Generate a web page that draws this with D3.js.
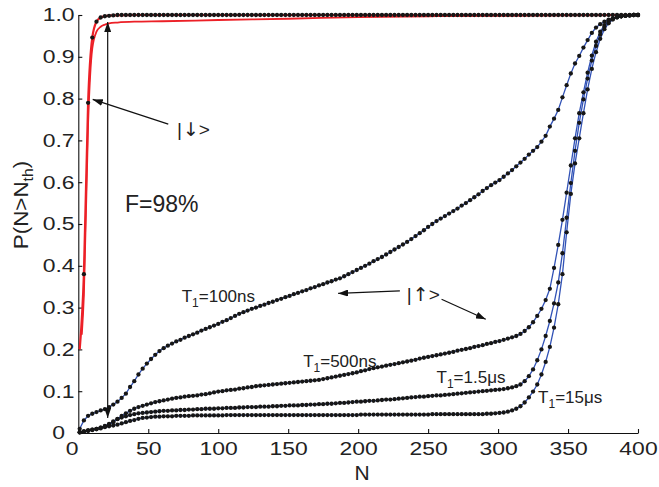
<!DOCTYPE html>
<html>
<head>
<meta charset="utf-8">
<script src="https://cdn.jsdelivr.net/npm/d3@7"></script>
<style>
  body { margin: 0; background: #fff; }
  text { font-family: "Liberation Sans", Arial, Helvetica, sans-serif; fill: #222; }
</style>
</head>
<body>
<div id="chart"></div>
<script>
// N thresholds (every 3 photons)
const nValues = [
  1,4,7,10,13,16,19,22,25,28,
  31,34,37,40,43,46,49,52,55,58,
  61,64,67,70,73,76,79,82,85,88,
  91,94,97,100,103,106,109,112,115,118,
  121,124,127,130,133,136,139,142,145,148,
  151,154,157,160,163,166,169,172,175,178,
  181,184,187,190,193,196,199,202,205,208,
  211,214,217,220,223,226,229,232,235,238,
  241,244,247,250,253,256,259,262,265,268,
  271,274,277,280,283,286,289,292,295,298,
  301,304,307,310,313,316,319,322,325,328,
  331,334,337,340,343,346,349,352,355,358,
  361,364,367,370,373,376,379,382,385,388,
  391,394,397,400
];

// |up> state, T1 = 100ns
const t100ns = [
  0.010,0.030,0.041,0.046,0.050,0.054,0.057,0.062,0.068,0.075,
  0.084,0.094,0.110,0.124,0.140,0.154,0.166,0.177,0.187,0.196,
  0.203,0.209,0.214,0.219,0.223,0.228,0.232,0.236,0.240,0.245,
  0.249,0.253,0.257,0.261,0.266,0.270,0.275,0.280,0.285,0.289,
  0.293,0.297,0.300,0.304,0.307,0.311,0.314,0.318,0.321,0.325,
  0.328,0.332,0.335,0.339,0.342,0.346,0.349,0.353,0.356,0.360,
  0.363,0.367,0.370,0.375,0.380,0.385,0.390,0.395,0.400,0.405,
  0.411,0.416,0.421,0.427,0.433,0.439,0.445,0.451,0.457,0.464,
  0.471,0.478,0.485,0.493,0.500,0.507,0.513,0.519,0.525,0.531,
  0.537,0.544,0.550,0.557,0.564,0.571,0.579,0.586,0.593,0.599,
  0.605,0.613,0.621,0.629,0.638,0.647,0.656,0.666,0.675,0.684,
  0.697,0.711,0.733,0.752,0.773,0.803,0.832,0.860,0.884,0.902,
  0.922,0.940,0.957,0.970,0.978,0.984,0.989,0.992,0.995,0.997,
  0.998,0.999,1.000,1.000
];

// T1 = 500ns
const t500ns = [
  0.002,0.004,0.006,0.008,0.010,0.013,0.016,0.020,0.026,0.034,
  0.041,0.047,0.053,0.058,0.062,0.065,0.068,0.071,0.074,0.076,
  0.078,0.080,0.082,0.084,0.085,0.087,0.088,0.089,0.090,0.092,
  0.093,0.095,0.097,0.099,0.100,0.102,0.103,0.104,0.106,0.107,
  0.109,0.110,0.112,0.113,0.114,0.115,0.116,0.117,0.118,0.119,
  0.120,0.121,0.122,0.123,0.124,0.125,0.126,0.127,0.129,0.131,
  0.133,0.135,0.137,0.139,0.141,0.143,0.145,0.148,0.150,0.153,
  0.155,0.157,0.159,0.161,0.163,0.165,0.167,0.169,0.171,0.173,
  0.175,0.178,0.180,0.182,0.184,0.186,0.188,0.190,0.192,0.194,
  0.197,0.199,0.201,0.203,0.206,0.208,0.210,0.213,0.215,0.218,
  0.220,0.223,0.226,0.229,0.232,0.237,0.244,0.253,0.265,0.280,
  0.297,0.318,0.345,0.395,0.450,0.510,0.575,0.640,0.705,0.765,
  0.815,0.862,0.903,0.936,0.960,0.976,0.986,0.991,0.995,0.997,
  0.998,0.999,1.000,1.000
];

// T1 = 1.5us
const t1500ns = [
  0.002,0.004,0.006,0.008,0.010,0.013,0.017,0.022,0.028,0.033,
  0.037,0.040,0.043,0.045,0.047,0.048,0.049,0.050,0.051,0.052,
  0.053,0.053,0.054,0.054,0.055,0.055,0.056,0.056,0.057,0.057,
  0.058,0.058,0.058,0.059,0.059,0.060,0.060,0.060,0.061,0.061,
  0.062,0.062,0.062,0.063,0.063,0.063,0.064,0.064,0.065,0.065,
  0.066,0.066,0.066,0.067,0.067,0.068,0.068,0.069,0.069,0.070,
  0.070,0.071,0.072,0.072,0.073,0.074,0.075,0.075,0.076,0.077,
  0.077,0.078,0.079,0.080,0.080,0.081,0.082,0.083,0.084,0.085,
  0.086,0.087,0.087,0.088,0.089,0.090,0.090,0.091,0.092,0.093,
  0.094,0.095,0.096,0.097,0.098,0.099,0.100,0.101,0.102,0.103,
  0.104,0.105,0.107,0.109,0.112,0.116,0.124,0.136,0.152,0.174,
  0.200,0.232,0.268,0.310,0.360,0.430,0.515,0.598,0.675,0.742,
  0.798,0.848,0.891,0.926,0.953,0.972,0.984,0.991,0.995,0.997,
  0.998,0.999,1.000,1.000
];

// T1 = 15us
const t15us = [
  0.001,0.003,0.005,0.007,0.009,0.011,0.014,0.016,0.018,0.020,
  0.023,0.026,0.029,0.031,0.034,0.036,0.037,0.038,0.039,0.039,
  0.040,0.040,0.040,0.041,0.041,0.041,0.041,0.042,0.042,0.042,
  0.042,0.042,0.042,0.042,0.042,0.043,0.043,0.043,0.043,0.043,
  0.043,0.043,0.043,0.043,0.043,0.043,0.043,0.043,0.043,0.043,
  0.043,0.043,0.043,0.043,0.043,0.043,0.043,0.043,0.043,0.043,
  0.043,0.043,0.043,0.043,0.043,0.043,0.043,0.044,0.044,0.044,
  0.044,0.044,0.044,0.044,0.044,0.044,0.044,0.044,0.044,0.044,
  0.044,0.044,0.044,0.044,0.045,0.045,0.045,0.045,0.045,0.045,
  0.045,0.045,0.045,0.045,0.045,0.045,0.045,0.046,0.046,0.047,
  0.048,0.049,0.051,0.054,0.058,0.064,0.073,0.085,0.099,0.116,
  0.140,0.170,0.206,0.252,0.308,0.380,0.480,0.572,0.645,0.705,
  0.765,0.822,0.871,0.911,0.943,0.966,0.980,0.989,0.994,0.997,
  0.998,0.999,1.000,1.000
];

// |down> state measured points, N = 4 ... 400
const downDots = [
  0.380,0.790,0.946,0.984,0.994,0.997,0.998,0.999,1,1,
  1,1,1,1,1,1,1,1,1,1,
  1,1,1,1,1,1,1,1,1,1,
  1,1,1,1,1,1,1,1,1,1,
  1,1,1,1,1,1,1,1,1,1,
  1,1,1,1,1,1,1,1,1,1,
  1,1,1,1,1,1,1,1,1,1,
  1,1,1,1,1,1,1,1,1,1,
  1,1,1,1,1,1,1,1,1,1,
  1,1,1,1,1,1,1,1,1,1,
  1,1,1,1,1,1,1,1,1,1,
  1,1,1,1,1,1,1,1,1,1,
  1,1,1,1,1,1,1,1,1,1,
  1,1,1
];

// |down> state red curves
const redN1 = [1, 4, 7, 10, 13, 16, 19, 25, 40, 400];
const redP1 = [0.20, 0.38, 0.79, 0.946, 0.984, 0.994, 0.997, 0.999, 1.0, 1.0];
const redN2 = [2.5, 4, 7, 10, 13, 16, 19, 22, 28, 40, 60, 100, 150, 200, 250, 300, 400];
const redP2 = [0.235, 0.33, 0.74, 0.92, 0.96, 0.972, 0.977, 0.98, 0.982, 0.984, 0.985, 0.988, 0.991, 0.995, 0.997, 0.998, 1.0];

const xTicks = [0, 50, 100, 150, 200, 250, 300, 350, 400];
const yTicks = [0, 0.1, 0.2, 0.3, 0.4, 0.5, 0.6, 0.7, 0.8, 0.9, 1.0];

// dimensions
var margin = { top: 15, right: 21, bottom: 54, left: 78.3 },
    width = 659,
    height = 487;

var x = d3.scaleLinear().domain([0, 400]).range([margin.left, width - margin.right]);
var y = d3.scaleLinear().domain([0, 1]).range([height - margin.bottom, margin.top]);

var svg = d3.select("#chart")
  .append("svg")
    .attr("width", width)
    .attr("height", height);

var defs = svg.append("defs");
defs.append("marker")
    .attr("id", "head")
    .attr("markerUnits", "userSpaceOnUse")
    .attr("viewBox", "0 0 10 7")
    .attr("refX", 10)
    .attr("refY", 3.5)
    .attr("markerWidth", 10)
    .attr("markerHeight", 7)
    .attr("orient", "auto-start-reverse")
  .append("path")
    .attr("d", "M0,0 L10,3.5 L0,7 Z")
    .attr("fill", "#111");

// axes, ticks pointing inward
var xAxis = svg.append("g")
    .attr("transform", `translate(0,${y(0)})`)
    .call(d3.axisBottom(x).tickValues(xTicks).tickSizeInner(-4).tickSizeOuter(0).tickPadding(9));

var yAxis = svg.append("g")
    .attr("transform", `translate(${x(0)},0)`)
    .call(d3.axisLeft(y).tickValues(yTicks).tickSizeInner(-4).tickSizeOuter(0).tickPadding(3)
      .tickFormat(d => d === 0 ? "0" : d3.format(".1f")(d)));

[xAxis, yAxis].forEach(g => {
  g.select(".domain").attr("stroke", "#111").attr("stroke-width", 1.1);
  g.selectAll(".tick line").attr("stroke", "#111").attr("stroke-width", 1.1);
  g.selectAll(".tick text")
      .attr("font-size", 18.5)
      .attr("font-family", null)
      .attr("fill", "#222")
      .attr("transform", "scale(1.24,1)");
});
xAxis.selectAll(".tick text").filter(d => d === 0).attr("x", -5.3);
yAxis.selectAll(".tick text").filter(d => d === 0).attr("x", -10.7);

// axis labels
svg.append("text")
    .attr("x", x(200) + 4)
    .attr("y", 480)
    .attr("text-anchor", "middle")
    .attr("font-size", 21)
    .text("N");

var yLabel = svg.append("text")
    .attr("transform", `translate(28,205) rotate(-90) scale(1.12,1)`)
    .attr("text-anchor", "middle")
    .attr("font-size", 20);
yLabel.append("tspan").text("P(N>N");
yLabel.append("tspan").attr("font-size", 14).attr("dy", 5).text("th");
yLabel.append("tspan").attr("dy", -5).text(")");

// lines
var line = d3.line().x(d => x(d[0])).y(d => y(d[1]));
var smooth = d3.line().x(d => x(d[0])).y(d => y(d[1])).curve(d3.curveMonotoneX);

var upSeries = [t100ns, t500ns, t1500ns, t15us];

svg.selectAll(".upLine")
  .data(upSeries)
  .enter()
  .append("path")
    .attr("class", "upLine")
    .attr("d", s => line(d3.zip(nValues, s)))
    .attr("fill", "none")
    .attr("stroke", "#3152b6")
    .attr("stroke-width", 1.3);

svg.append("path")
    .attr("d", smooth(d3.zip(redN2, redP2)))
    .attr("fill", "none")
    .attr("stroke", "#ec2027")
    .attr("stroke-width", 1.8);

svg.append("path")
    .attr("d", smooth(d3.zip(redN1, redP1)))
    .attr("fill", "none")
    .attr("stroke", "#ec2027")
    .attr("stroke-width", 2.2);

// dots
upSeries.forEach(s => {
  svg.append("g").selectAll("circle")
    .data(d3.zip(nValues, s))
    .enter()
    .append("circle")
      .attr("cx", d => x(d[0]))
      .attr("cy", d => y(d[1]))
      .attr("r", 2.15)
      .attr("fill", "#161616");
});

svg.append("g").selectAll("circle")
  .data(d3.zip(nValues.slice(1), downDots))
  .enter()
  .append("circle")
    .attr("cx", d => x(d[0]))
    .attr("cy", d => y(d[1]))
    .attr("r", 2.15)
    .attr("fill", "#161616");

// annotations
function arrow(x1, y1, x2, y2, both) {
  var p = svg.append("line")
      .attr("x1", x(x1)).attr("y1", y(y1))
      .attr("x2", x(x2)).attr("y2", y(y2))
      .attr("stroke", "#111")
      .attr("stroke-width", 1.2)
      .attr("marker-end", "url(#head)");
  if (both) p.attr("marker-start", "url(#head)");
}

arrow(21, 0.036, 21, 0.983, true);
arrow(64.3, 0.739, 10.3, 0.798);
arrow(229.8, 0.340, 185.7, 0.334);
arrow(259.6, 0.320, 291.2, 0.272);

function ketLabel(n, p, glyph) {
  var t = svg.append("text")
      .attr("x", x(n)).attr("y", y(p))
      .attr("font-size", 19);
  t.append("tspan").text("|");
  t.append("tspan").attr("font-family", "DejaVu Sans").attr("dx", 1).text(glyph);
  t.append("tspan").text(">");
}
ketLabel(70.5, 0.711, "↓");
ketLabel(234.8, 0.316, "↑");

svg.append("text")
    .attr("x", x(33.4)).attr("y", y(0.529))
    .attr("font-size", 23)
    .text("F=98%");

function t1Label(n, p, rest) {
  var t = svg.append("text")
      .attr("x", x(n)).attr("y", y(p))
      .attr("font-size", 17);
  t.append("tspan").text("T");
  t.append("tspan").attr("font-size", 12).attr("dy", 5).text("1");
  t.append("tspan").attr("dy", -5).text(rest);
}
t1Label(73.9, 0.314, "=100ns");
t1Label(160.7, 0.159, "=500ns");
t1Label(256, 0.119, "=1.5μs");
t1Label(328.6, 0.071, "=15μs");
</script>
</body>
</html>
